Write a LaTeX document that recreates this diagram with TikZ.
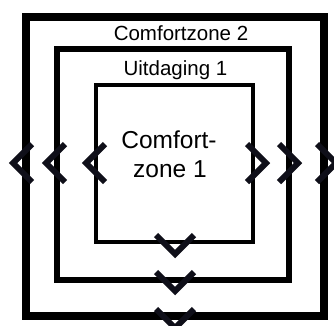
\documentclass[tikz,border=0pt]{standalone}
\usepackage{fontspec}
\setmainfont{Liberation Sans}
\definecolor{chev}{RGB}{15,15,25}
\begin{document}
\begin{tikzpicture}[x=1pt,y=-1pt,
  sq/.style={draw=black,line join=miter},
  chevron/.style={draw=chev,line width=6pt,line join=miter},
  lbl/.style={anchor=base,inner sep=0pt,font=\fontsize{20.5}{24}\selectfont},
  big/.style={anchor=base,inner sep=0pt,font=\fontsize{24.5}{29}\selectfont}]
\useasboundingbox (0,0) rectangle (334,325);
% squares
\draw[sq,line width=8pt] (26,17) rectangle (324,315.5);
\draw[sq,line width=6pt] (57,48.5) rectangle (289,280);
\draw[sq,line width=4pt] (96,85) rectangle (253,242);
% labels
\node[lbl] (cz2) at (181,40.7) {Comfortzone 2};
\node[lbl] (ui1) at (175.5,75) {Uitdaging 1};
\node[big] (cz1a) at (169,148) {Comfort-};
\node[big] (cz1b) at (170,177) {zone 1};
% left chevrons
\foreach \t in {13,46,86}
  \draw[chevron] (\t+19,163-19) -- (\t,163) -- (\t+19,163+19);
% right chevrons
\foreach \t in {266,298,336}
  \draw[chevron] (\t-19,163-19) -- (\t,163) -- (\t-19,163+19);
% bottom chevrons
\foreach \a in {235,272,309}
  \draw[chevron] (175-19,\a) -- (175,\a+19) -- (175+19,\a);
\end{tikzpicture}
\end{document}
